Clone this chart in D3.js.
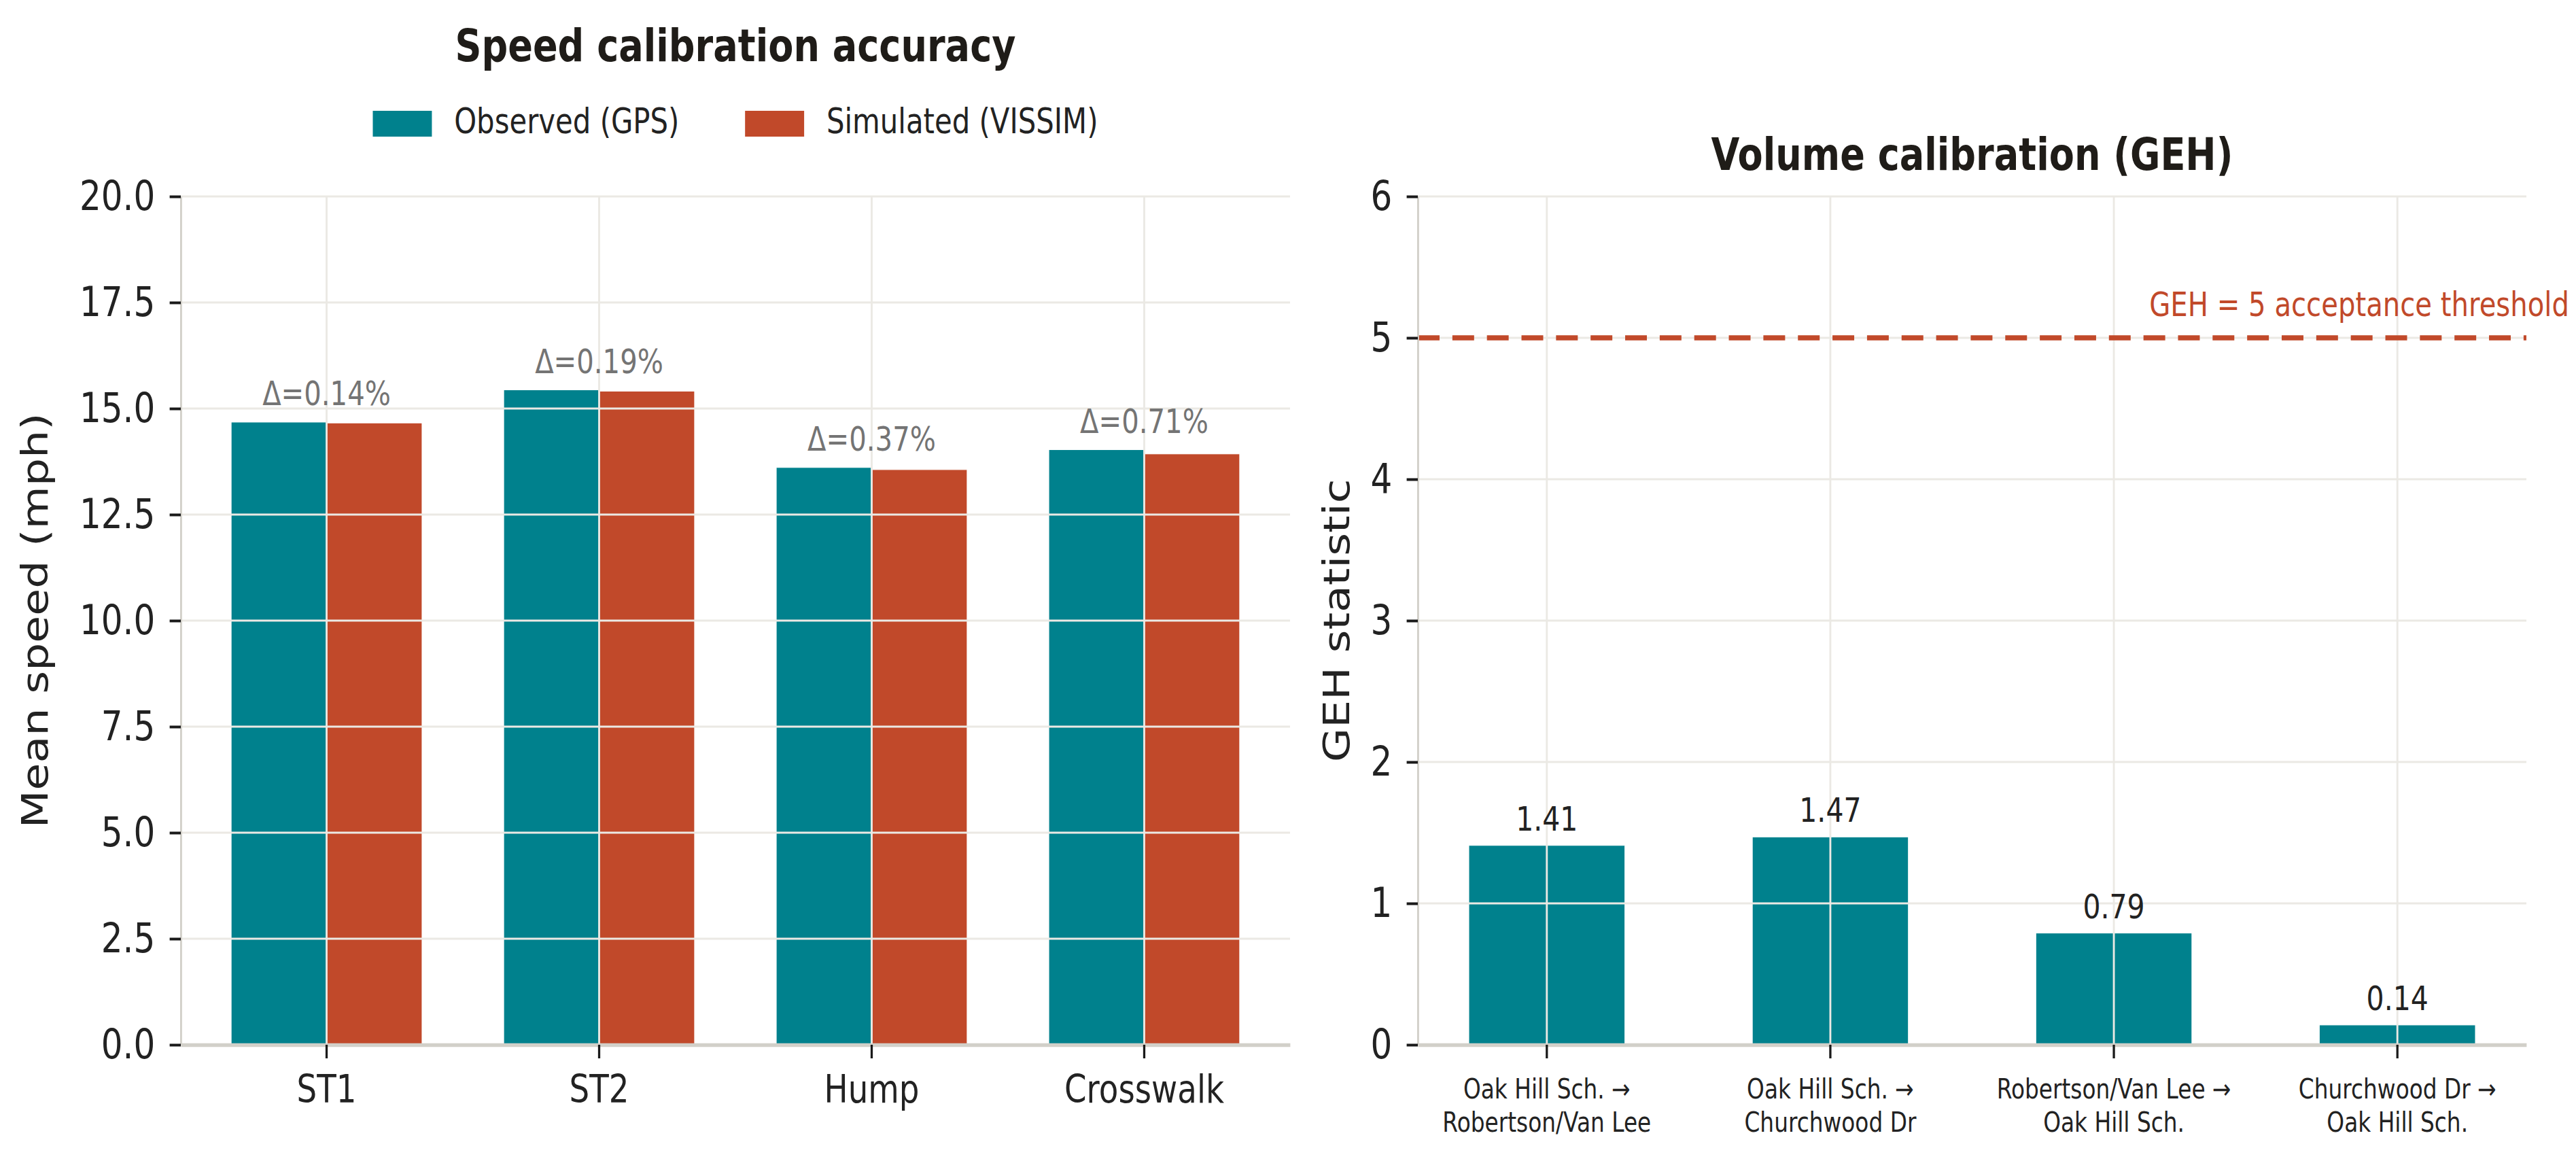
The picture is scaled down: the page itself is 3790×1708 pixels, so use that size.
<!DOCTYPE html>
<html>
<head>
<meta charset="utf-8">
<script src="https://cdn.jsdelivr.net/npm/d3@7"></script>
<style>
  body { margin: 0; background: #ffffff; }
  text { font-family: "DejaVu Sans", sans-serif; }
</style>
</head>
<body>
<script>
// Data
const sites = ["ST1", "ST2", "Hump", "Crosswalk"];
const seriesNames = ["Observed (GPS)", "Simulated (VISSIM)"];
const observed = [14.68, 15.44, 13.61, 14.03];
const simulated = [14.66, 15.41, 13.56, 13.93];
const deltas = [0.14, 0.19, 0.37, 0.71];
const speedTicks = [0, 2.5, 5, 7.5, 10, 12.5, 15, 17.5, 20];

const links = ["Oak Hill Sch. →\nRobertson/Van Lee", "Oak Hill Sch. →\nChurchwood Dr",
               "Robertson/Van Lee →\nOak Hill Sch.", "Churchwood Dr →\nOak Hill Sch."];
const geh = [1.41, 1.47, 0.79, 0.14];
const gehTicks = [0, 1, 2, 3, 4, 5, 6];
const gehThreshold = 5;

// The picture is horizontally squeezed, so draw wide and scale x
const W = 3790, H = 1708, sx = 0.82;
const teal = "#00818d", red = "#c1492a";
const gridColor = "#ebe9e4", spineColor = "#d2d0c9", ink = "#222222";

const svg = d3.select("body").append("svg")
  .attr("width", W)
  .attr("height", H);
const root = svg.append("g").attr("transform", "scale(" + sx + ",1)");

const plotTop = 289, plotBottom = 1537;

function styleAxis(g, fontSize, spineWidth) {
  g.select(".domain").attr("stroke", spineColor).attr("stroke-width", spineWidth);
  g.selectAll(".tick line").attr("stroke", "#1a1a1a").attr("stroke-width", 4);
  g.selectAll(".tick text").attr("fill", ink).style("font-size", fontSize + "px");
}

// ---------- Left panel: speed ----------
const left = root.append("g");
const lx0 = 266 / sx, lx1 = 1898 / sx;

const x0 = d3.scaleBand().domain(sites).range([lx0, lx1])
  .paddingInner(0.3).paddingOuter(0.185);
const x1 = d3.scaleBand().domain(seriesNames).range([0, x0.bandwidth()]);
const y = d3.scaleLinear().domain([0, 20]).range([plotBottom, plotTop]);
const color = d3.scaleOrdinal().domain(seriesNames).range([teal, red]);

const rows = sites.map((s, i) => ({ site: s, values: [observed[i], simulated[i]], delta: deltas[i] }));

left.selectAll("g.group")
  .data(rows)
  .enter().append("g")
  .attr("class", "group")
  .attr("transform", d => "translate(" + x0(d.site) + ",0)")
  .selectAll("rect")
  .data(d => d.values.map((v, j) => ({ key: seriesNames[j], value: v })))
  .enter().append("rect")
  .attr("x", d => x1(d.key))
  .attr("width", x1.bandwidth())
  .attr("y", d => y(d.value))
  .attr("height", d => plotBottom - y(d.value))
  .attr("fill", d => color(d.key))
  .attr("stroke", "#ffffff")
  .attr("stroke-width", 1);

// gridlines sit on top of the bars
left.selectAll("line.hgrid")
  .data(speedTicks)
  .enter().append("line")
  .attr("x1", lx0).attr("x2", lx1)
  .attr("y1", d => y(d)).attr("y2", d => y(d))
  .attr("stroke", gridColor).attr("stroke-width", 3);

left.selectAll("line.vgrid")
  .data(sites)
  .enter().append("line")
  .attr("x1", d => x0(d) + x0.bandwidth() / 2)
  .attr("x2", d => x0(d) + x0.bandwidth() / 2)
  .attr("y1", plotTop).attr("y2", plotBottom)
  .attr("stroke", gridColor).attr("stroke-width", 3.5);

// delta labels
left.selectAll("text.delta")
  .data(rows)
  .enter().append("text")
  .attr("x", d => x0(d.site) + x0.bandwidth() / 2)
  .attr("y", d => y(d3.max(d.values)) - 25)
  .attr("text-anchor", "middle")
  .attr("fill", "#747474")
  .style("font-size", "49px")
  .text(d => "Δ=" + d.delta.toFixed(2) + "%");

left.append("g")
  .attr("transform", "translate(0," + plotBottom + ")")
  .call(d3.axisBottom(x0).tickSize(20).tickSizeOuter(0).tickPadding(25))
  .call(g => styleAxis(g, 57, 5.5));

left.append("g")
  .attr("transform", "translate(" + lx0 + ",0)")
  .call(d3.axisLeft(y).tickValues(speedTicks).tickFormat(d3.format(".1f"))
    .tickSize(20).tickSizeOuter(0).tickPadding(26))
  .call(g => styleAxis(g, 61, 3.5));

left.append("text")
  .attr("transform", "translate(" + (70 / sx) + "," + ((plotTop + plotBottom) / 2) + ") rotate(-90)")
  .attr("text-anchor", "middle")
  .attr("fill", ink)
  .style("font-size", "65px")
  .text("Mean speed (mph)");

left.append("text")
  .attr("x", (lx0 + lx1) / 2)
  .attr("y", 90)
  .attr("text-anchor", "middle")
  .attr("fill", "#1f1c18")
  .style("font-size", "66px")
  .style("font-weight", "bold")
  .text("Speed calibration accuracy");

// legend, centred over the left plot
const legend = left.append("g");
const items = legend.selectAll("g.item")
  .data(seriesNames)
  .enter().append("g")
  .attr("class", "item");
items.append("rect")
  .attr("y", 163).attr("width", 106).attr("height", 38)
  .attr("fill", d => color(d));
items.append("text")
  .attr("x", 146).attr("y", 196)
  .attr("fill", ink)
  .style("font-size", "51px")
  .text(d => d);
let cursor = 0;
items.each(function () {
  const w = 146 + d3.select(this).select("text").node().getComputedTextLength();
  d3.select(this).attr("transform", "translate(" + cursor + ",0)");
  cursor += w + 118;
});
cursor -= 118;
legend.attr("transform", "translate(" + ((lx0 + lx1) / 2 - cursor / 2) + ",0)");

// ---------- Right panel: GEH ----------
const right = root.append("g");
const rx0 = 2086 / sx, rx1 = 3717 / sx;

const xr = d3.scaleBand().domain(links).range([rx0, rx1])
  .paddingInner(0.45).paddingOuter(0.18);
const yr = d3.scaleLinear().domain([0, 6]).range([plotBottom, plotTop]);

right.selectAll("rect")
  .data(links.map((l, i) => ({ link: l, value: geh[i] })))
  .enter().append("rect")
  .attr("x", d => xr(d.link))
  .attr("width", xr.bandwidth())
  .attr("y", d => yr(d.value))
  .attr("height", d => plotBottom - yr(d.value))
  .attr("fill", teal)
  .attr("stroke", "#ffffff")
  .attr("stroke-width", 1);

right.selectAll("line.hgrid")
  .data(gehTicks)
  .enter().append("line")
  .attr("x1", rx0).attr("x2", rx1)
  .attr("y1", d => yr(d)).attr("y2", d => yr(d))
  .attr("stroke", gridColor).attr("stroke-width", 3);

right.selectAll("line.vgrid")
  .data(links)
  .enter().append("line")
  .attr("x1", d => xr(d) + xr.bandwidth() / 2)
  .attr("x2", d => xr(d) + xr.bandwidth() / 2)
  .attr("y1", plotTop).attr("y2", plotBottom)
  .attr("stroke", gridColor).attr("stroke-width", 3.5);

right.selectAll("text.val")
  .data(links.map((l, i) => ({ link: l, value: geh[i] })))
  .enter().append("text")
  .attr("x", d => xr(d.link) + xr.bandwidth() / 2)
  .attr("y", d => yr(d.value) - 22)
  .attr("text-anchor", "middle")
  .attr("fill", ink)
  .style("font-size", "50px")
  .text(d => d.value.toFixed(2));

// acceptance threshold
right.append("line")
  .attr("x1", rx0).attr("x2", rx1)
  .attr("y1", yr(gehThreshold)).attr("y2", yr(gehThreshold))
  .attr("stroke", red).attr("stroke-width", 7.5)
  .attr("stroke-dasharray", "39,23");

right.append("text")
  .attr("x", 3780 / sx)
  .attr("y", yr(gehThreshold) - 32)
  .attr("text-anchor", "end")
  .attr("fill", red)
  .style("font-size", "49px")
  .text("GEH = " + gehThreshold + " acceptance threshold");

const xAxisR = right.append("g")
  .attr("transform", "translate(0," + plotBottom + ")")
  .call(d3.axisBottom(xr).tickSize(20).tickSizeOuter(0))
  .call(g => styleAxis(g, 40, 5.5));

xAxisR.selectAll(".tick text").each(function (d) {
  const t = d3.select(this).text(null).attr("dy", null).attr("y", null);
  d.split("\n").forEach((line, i) => {
    t.append("tspan").attr("x", 0).attr("y", 79 + i * 49).text(line);
  });
});

right.append("g")
  .attr("transform", "translate(" + rx0 + ",0)")
  .call(d3.axisLeft(yr).tickValues(gehTicks).tickFormat(d3.format("d"))
    .tickSize(20).tickSizeOuter(0).tickPadding(26))
  .call(g => styleAxis(g, 61, 3.5));

right.append("text")
  .attr("transform", "translate(" + (1985 / sx) + "," + ((plotTop + plotBottom) / 2) + ") rotate(-90)")
  .attr("text-anchor", "middle")
  .attr("fill", ink)
  .style("font-size", "65px")
  .text("GEH statistic");

right.append("text")
  .attr("x", (rx0 + rx1) / 2)
  .attr("y", 250)
  .attr("text-anchor", "middle")
  .attr("fill", "#1f1c18")
  .style("font-size", "66px")
  .style("font-weight", "bold")
  .text("Volume calibration (GEH)");
</script>
</body>
</html>
